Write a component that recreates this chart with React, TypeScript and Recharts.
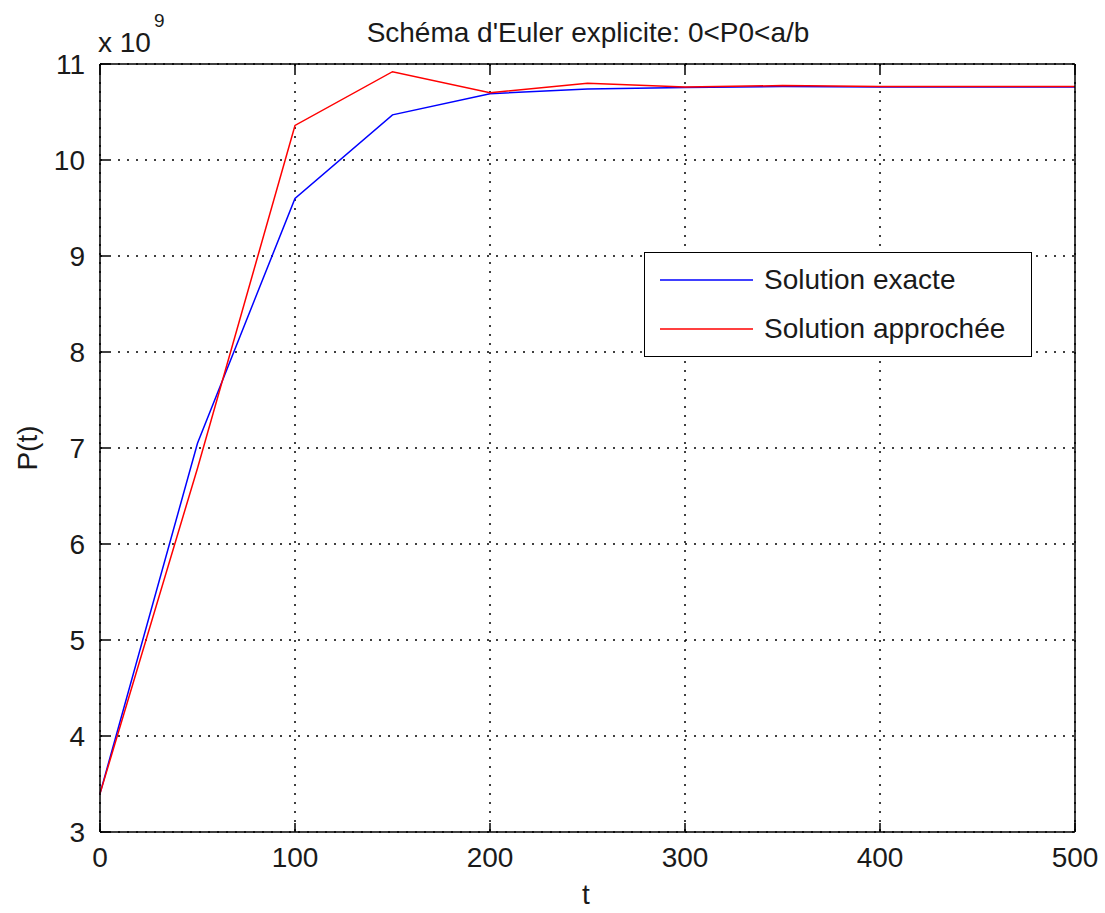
import React from 'react';
import { LineChart, Line, XAxis, YAxis, CartesianGrid, Legend } from 'recharts';

const tValues = [0, 50, 100, 150, 200, 250, 300, 350, 400, 450, 500];
const exacte = [3.4, 7.05, 9.6, 10.47, 10.69, 10.74, 10.755, 10.765, 10.76, 10.76, 10.76];
const approchee = [3.4, 6.79, 10.36, 10.92, 10.7, 10.8, 10.76, 10.775, 10.765, 10.765, 10.765];
const xTicks = [0, 100, 200, 300, 400, 500];
const yTicks = [3, 4, 5, 6, 7, 8, 9, 10, 11];
const titleText = "Schéma d'Euler explicite: 0<P0<a/b";
const xLabel = 't';
const yLabel = 'P(t)';
const exponentBase = 'x 10';
const exponentPower = '9';
const seriesNames = ['Solution exacte', 'Solution approchée'];
const seriesColors = ['#0000ff', '#ff0000'];

const data = tValues.map((t, i) => ({ t, exacte: exacte[i], approchee: approchee[i] }));

const FONT = '"Liberation Sans", Arial, Helvetica, sans-serif';
const FS = 28;
const TXT = '#1a1a1a';
const TICKLEN = 9;

const BottomTick = (props: any) => {
  const { x, y, payload } = props;
  const axisY = y - 13;
  return (
    <g>
      <line x1={x} x2={x} y1={axisY} y2={axisY - TICKLEN} stroke="#000" strokeWidth={1.5} />
      <text x={x} y={axisY + 35} textAnchor="middle" fontFamily={FONT} fontSize={FS} fill={TXT}>
        {payload.value}
      </text>
    </g>
  );
};

const TopTick = (props: any) => {
  const { x, y } = props;
  return <line x1={x} x2={x} y1={y} y2={y + TICKLEN} stroke="#000" strokeWidth={1.5} />;
};

const LeftTick = (props: any) => {
  const { x, y, payload } = props;
  const axisX = x + 15;
  return (
    <g>
      <line x1={axisX} x2={axisX + TICKLEN} y1={y} y2={y} stroke="#000" strokeWidth={1.5} />
      <text x={x} y={y + 10} textAnchor="end" fontFamily={FONT} fontSize={FS} fill={TXT}>
        {payload.value}
      </text>
    </g>
  );
};

const RightTick = (props: any) => {
  const { x, y } = props;
  return <line x1={x} x2={x - TICKLEN} y1={y} y2={y} stroke="#000" strokeWidth={1.5} />;
};

const LegendBox = (props: any) => {
  const payload = ((props.payload || []) as any[])
    .slice()
    .sort((a, b) => seriesNames.indexOf(a.value) - seriesNames.indexOf(b.value));
  return (
    <div
      style={{
        position: 'relative',
        width: 388,
        height: 105,
        boxSizing: 'border-box',
        border: '1.5px solid #000',
        background: '#fff',
        fontFamily: FONT,
        fontSize: FS,
        color: TXT,
      }}
    >
      {payload.map((entry, i) => (
        <div
          key={i}
          style={{ position: 'absolute', left: 0, top: 27 + i * 49 - 20, height: 40, display: 'flex', alignItems: 'center' }}
        >
          <svg width={119} height={40} style={{ display: 'block' }}>
            <line x1={15} x2={108} y1={20} y2={20} stroke={entry.color} strokeWidth={1.5} />
          </svg>
          <span style={{ whiteSpace: 'nowrap', lineHeight: '40px' }}>{entry.value}</span>
        </div>
      ))}
    </div>
  );
};

export default function App() {
  return (
    <div style={{ position: 'absolute', left: 0, top: 0, width: 1105, height: 913, background: '#fff' }}>
      <LineChart
        width={1105}
        height={913}
        data={data}
        margin={{ top: 34, right: 1, bottom: 21, left: 40 }}
      >
        <CartesianGrid stroke="#000" strokeDasharray="2 7" strokeWidth={1.5} />
        <XAxis
          dataKey="t"
          type="number"
          domain={[0, 500]}
          ticks={xTicks}
          height={60}
          tickSize={0}
          tickMargin={13}
          tickLine={false}
          axisLine={{ stroke: '#000', strokeWidth: 1.5 }}
          tick={<BottomTick />}
          interval={0}
        />
        <XAxis
          xAxisId="top"
          orientation="top"
          dataKey="t"
          type="number"
          domain={[0, 500]}
          ticks={xTicks}
          height={30}
          tickSize={0}
          tickMargin={0}
          tickLine={false}
          axisLine={{ stroke: '#000', strokeWidth: 1.5 }}
          tick={<TopTick />}
          interval={0}
        />
        <YAxis
          type="number"
          domain={[3, 11]}
          ticks={yTicks}
          width={60}
          tickSize={0}
          tickMargin={15}
          tickLine={false}
          axisLine={{ stroke: '#000', strokeWidth: 1.5 }}
          tick={<LeftTick />}
          interval={0}
        />
        <YAxis
          yAxisId="right"
          orientation="right"
          type="number"
          domain={[3, 11]}
          ticks={yTicks}
          width={29}
          tickSize={0}
          tickMargin={0}
          tickLine={false}
          axisLine={{ stroke: '#000', strokeWidth: 1.5 }}
          tick={<RightTick />}
          interval={0}
        />
        <Legend
          layout="horizontal"
          verticalAlign="middle"
          align="center"
          content={<LegendBox />}
          wrapperStyle={{ position: 'absolute', left: 644, top: 252, width: 388, height: 105 }}
        />
        <Line
          type="linear"
          dataKey="exacte"
          name={seriesNames[0]}
          stroke={seriesColors[0]}
          strokeWidth={1.5}
          dot={false}
          isAnimationActive={false}
        />
        <Line
          type="linear"
          dataKey="approchee"
          name={seriesNames[1]}
          stroke={seriesColors[1]}
          strokeWidth={1.5}
          dot={false}
          isAnimationActive={false}
        />
      </LineChart>
      <svg
        width={1105}
        height={913}
        style={{ position: 'absolute', left: 0, top: 0, pointerEvents: 'none' }}
      >
        <text x={588} y={42} textAnchor="middle" fontFamily={FONT} fontSize={FS} fill={TXT}>
          {titleText}
        </text>
        <text x={98} y={52} fontFamily={FONT} fontSize={FS} fill={TXT}>
          {exponentBase}
        </text>
        <text x={154} y={27} fontFamily={FONT} fontSize={19} fill={TXT}>
          {exponentPower}
        </text>
        <text
          x={37}
          y={448}
          textAnchor="middle"
          fontFamily={FONT}
          fontSize={FS}
          fill={TXT}
          transform="rotate(-90, 37, 448)"
        >
          {yLabel}
        </text>
        <text x={586} y={904} textAnchor="middle" fontFamily={FONT} fontSize={FS} fill={TXT}>
          {xLabel}
        </text>
      </svg>
    </div>
  );
}
